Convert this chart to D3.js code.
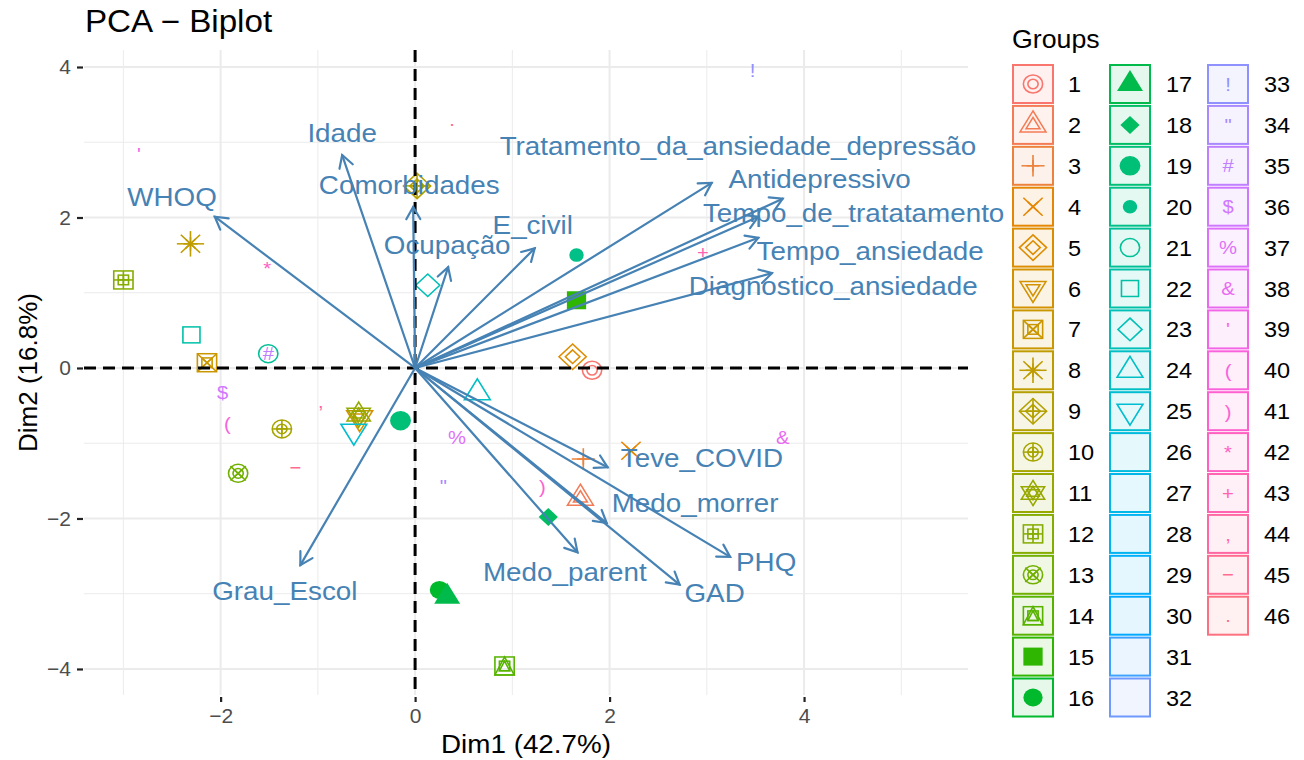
<!DOCTYPE html>
<html>
<head>
<meta charset="utf-8">
<script src="https://cdn.jsdelivr.net/npm/d3@7"></script>
<style>
  body { margin: 0; background: #fff; }
  text { font-family: "Liberation Sans", Arial, sans-serif; }
</style>
</head>
<body>
<svg id="chart" width="1304" height="760"></svg>
<script>
// PCA biplot: individuals coloured/shaped by group, variables as arrows

// groups (legend categories), shape code = group number like ggplot
const groupIds = [1, 2, 3, 4, 5, 6, 7, 8, 9, 10, 11, 12, 13, 14, 15, 16,
  17, 18, 19, 20, 21, 22, 23, 24, 25, 26, 27, 28, 29, 30, 31, 32,
  33, 34, 35, 36, 37, 38, 39, 40, 41, 42, 43, 44, 45, 46];

// individuals (groups 26-32 have no drawable shape)
const pointGroup = [1, 2, 3, 4, 5, 6, 7, 8, 9, 10, 11, 12, 13, 14, 15, 16, 17, 18, 19, 20,
  21, 22, 23, 24, 25, 33, 34, 35, 36, 37, 38, 39, 40, 41, 42, 43, 44, 45, 46];
const pointX = [1.82, 1.70, 1.73, 2.22, 1.62, -0.57, -2.14, -2.31, 0.02, -1.37, -0.58, -3.00, -1.82, 0.92, 1.66, 0.25, 0.33, 1.37, -0.15, 1.66,
  -1.51, -2.30, 0.13, 0.64, -0.63, 3.47, 0.29, -1.51, -1.98, 0.43, 3.78, -2.84, -1.93, 1.31, -1.52, 2.96, -0.97, -1.23, 0.38];
const pointY = [-0.03, -1.73, -1.21, -1.10, 0.15, -0.66, 0.07, 1.65, 2.42, -0.81, -0.62, 1.17, -1.40, -3.96, 0.90, -2.95, -3.04, -1.98, -0.70, 1.50,
  0.19, 0.44, 1.10, -0.33, -0.84, 3.96, -1.57, 0.19, -0.33, -0.92, -0.92, 2.84, -0.73, -1.58, 1.32, 1.54, -0.44, -1.32, 3.31];

// variables (arrow tips) and their label anchors
const varNames = ['WHOQ', 'Idade', 'Comorbidades', 'Ocupação', 'E_civil',
  'Tratamento_da_ansiedade_depressão', 'Antidepressivo', 'Tempo_de_tratatamento',
  'Tempo_ansiedade', 'Diagnostico_ansiedade', 'Teve_COVID', 'Medo_morrer', 'PHQ', 'GAD',
  'Medo_parent', 'Grau_Escol'];
const varX = [-2.06, -0.75, -0.02, 0.34, 1.23, 3.05, 3.78, 3.53, 3.53, 3.67, 1.98, 1.97, 3.24, 2.72, 1.67, -1.18];
const varY = [2.01, 2.83, 2.14, 1.34, 1.59, 2.46, 2.25, 2.01, 1.73, 1.26, -1.32, -2.06, -2.51, -2.88, -2.45, -2.62];
const labX = [-2.50, -0.75, -0.06, 0.33, 1.21, 3.32, 4.16, 4.51, 4.68, 4.30, 2.95, 2.88, 3.61, 3.08, 1.54, -1.34];
const labY = [2.27, 3.12, 2.43, 1.63, 1.90, 2.95, 2.51, 2.06, 1.55, 1.09, -1.20, -1.79, -2.58, -2.99, -2.71, -2.96];

const xTicks = [-2, 0, 2, 4];
const xMinor = [-3, -1, 1, 3, 5];
const yTicks = [-4, -2, 0, 2, 4];
const yMinor = [-3, -1, 1, 3];

// ---- ggplot hue palette (polar LUV like grDevices::hcl) ----
function hcl(h, c, l) {
  const hr = h * Math.PI / 180;
  const U = c * Math.cos(hr), V = c * Math.sin(hr);
  const Y = 100 * (l > 7.999592 ? Math.pow((l + 16) / 116, 3) : l / 903.3);
  const u = U / (13 * l) + 0.1978398, v = V / (13 * l) + 0.4683363;
  const X = 9 * Y * u / (4 * v);
  const Z = -X / 3 - 5 * Y + 3 * Y / v;
  const g = t => { t = t / 100; t = t > 0.00304 ? 1.055 * Math.pow(t, 1 / 2.4) - 0.055 : 12.92 * t; return Math.round(255 * Math.max(0, Math.min(1, t))); };
  return d3.rgb(g(3.240479 * X - 1.537150 * Y - 0.498535 * Z),
                g(-0.969256 * X + 1.875992 * Y + 0.041556 * Z),
                g(0.055648 * X - 0.204043 * Y + 1.057311 * Z)).formatHex();
}
const colour = d3.scaleOrdinal()
  .domain(groupIds)
  .range(groupIds.map((g, i) => hcl(15 + i * 360 / groupIds.length, 100, 65)));

const svg = d3.select('#chart');
const SX = 1.07; // the picture is slightly wider than tall in glyphs/text
const pL = 84, pR = 968, pT = 50, pB = 695;
const x = d3.scaleLinear().domain([-3.405, 5.686]).range([pL, pR]);
const y = d3.scaleLinear().domain([-4.346, 4.226]).range([pB, pT]);

function txt(parent, px, py, str, size, fill, anchor) {
  return parent.append('text')
    .attr('transform', `translate(${px},${py}) scale(${SX},1)`)
    .attr('text-anchor', anchor || 'middle')
    .attr('font-size', size)
    .attr('fill', fill)
    .text(str);
}

// grid
const grid = svg.append('g');
grid.selectAll('.vmin').data(xMinor).enter().append('line')
  .attr('x1', d => x(d)).attr('x2', d => x(d)).attr('y1', pT).attr('y2', pB)
  .attr('stroke', '#ebebeb').attr('stroke-width', 1);
grid.selectAll('.hmin').data(yMinor).enter().append('line')
  .attr('y1', d => y(d)).attr('y2', d => y(d)).attr('x1', pL).attr('x2', pR)
  .attr('stroke', '#ebebeb').attr('stroke-width', 1);
grid.selectAll('.vmaj').data(xTicks).enter().append('line')
  .attr('x1', d => x(d)).attr('x2', d => x(d)).attr('y1', pT).attr('y2', pB)
  .attr('stroke', '#ebebeb').attr('stroke-width', 2);
grid.selectAll('.hmaj').data(yTicks).enter().append('line')
  .attr('y1', d => y(d)).attr('y2', d => y(d)).attr('x1', pL).attr('x2', pR)
  .attr('stroke', '#ebebeb').attr('stroke-width', 2);

// axes: ticks + labels
const xAxis = svg.append('g').attr('transform', `translate(0,${pB + 2})`)
  .call(d3.axisBottom(x).tickValues(xTicks).tickSize(5).tickPadding(6)
    .tickFormat(d => d < 0 ? '\u2212' + Math.abs(d) : d));
const yAxis = svg.append('g').attr('transform', `translate(${pL - 1},0)`)
  .call(d3.axisLeft(y).tickValues(yTicks).tickSize(6).tickPadding(6)
    .tickFormat(d => d < 0 ? '\u2212' + Math.abs(d) : d));
[xAxis, yAxis].forEach(a => {
  a.select('.domain').remove();
  a.selectAll('.tick line').attr('stroke', '#222').attr('stroke-width', 2.2);
  a.selectAll('.tick text').attr('font-size', 21).attr('fill', '#4d4d4d')
    .attr('font-family', '"Liberation Sans", Arial, sans-serif');
});
xAxis.selectAll('.tick text').attr('dy', '0.71em');

// ---- point shapes (R pch geometry) ----
const T0 = 1.55512030, T1 = 1.34677368, T2 = 0.77756015, SQ = 0.88622693, DM = 1.25331414, S2 = Math.SQRT2;
function drawShape(g, code, r, col) {
  const sw = 1.5;
  const line = (x1, y1, x2, y2) => g.append('line').attr('x1', x1).attr('y1', y1).attr('x2', x2).attr('y2', y2)
    .attr('stroke', col).attr('stroke-width', sw);
  const plus = h => { line(-h, 0, h, 0); line(0, -h, 0, h); };
  const cross = h => { line(-h, -h, h, h); line(-h, h, h, -h); };
  const poly = (pts, fill) => g.append('polygon').attr('points', pts.map(p => p.join(',')).join(' '))
    .attr('fill', fill ? col : 'none').attr('stroke', fill === 'solid' ? 'none' : col).attr('stroke-width', sw)
    .attr('stroke-linejoin', 'miter');
  const circ = (rr, fill) => g.append('circle').attr('r', rr).attr('fill', fill ? col : 'none')
    .attr('stroke', fill === 'solid' ? 'none' : col).attr('stroke-width', sw);
  const sq = (h, fill) => g.append('rect').attr('x', -h).attr('y', -h).attr('width', 2 * h).attr('height', 2 * h)
    .attr('fill', fill ? col : 'none').attr('stroke', fill === 'solid' ? 'none' : col).attr('stroke-width', sw);
  const up = rr => [[0, -T0 * rr], [T1 * rr, T2 * rr], [-T1 * rr, T2 * rr]];
  const dn = rr => [[0, T0 * rr], [T1 * rr, -T2 * rr], [-T1 * rr, -T2 * rr]];
  const dia = h => [[0, -h], [h, 0], [0, h], [-h, 0]];
  switch (code) {
    case 0: sq(r * SQ); break;
    case 1: circ(r); break;
    case 2: poly(up(r)); break;
    case 3: plus(S2 * r * 0.85); break;
    case 4: cross(r); break;
    case 5: poly(dia(S2 * r)); break;
    case 6: poly(dn(r)); break;
    case 7: sq(r); cross(r); break;
    case 8: cross(r); plus(S2 * r); break;
    case 9: poly(dia(S2 * r)); plus(S2 * r); break;
    case 10: circ(r); plus(r); break;
    case 11: poly(up(r * 0.9)); poly(dn(r * 0.9)); break;
    case 12: sq(r); plus(r); break;
    case 13: circ(r); cross(r * 0.8); break;
    case 14: sq(r); poly([[0, -r], [r, r], [-r, r]]); break;
    case 15: sq(r, 'solid'); break;
    case 16: circ(r, 'solid'); break;
    case 17: poly(up(r), 'solid'); break;
    case 18: poly(dia(r), 'solid'); break;
    case 19: circ(r, true); break;
    case 20: circ(r * 2 / 3, true); break;
    case 21: circ(r); break;
    case 22: sq(r * SQ); break;
    case 23: poly(dia(r * DM)); break;
    case 24: poly(up(r)); break;
    case 25: poly(dn(r)); break;
    default:
      if (code >= 33) {
        const ch = code === 45 ? '\u2212' : String.fromCharCode(code);
        g.append('text').attr('text-anchor', 'middle').attr('dy', '0.35em')
          .attr('font-size', r * 2.1).attr('fill', col).text(ch);
      }
  }
}
// a group glyph = individual point (small) + its group mean (large);
// fillable shapes 21-25 and characters show as one mark
function drawGlyph(g, code, col) {
  if (code >= 26 && code <= 32) return;
  drawShape(g, code, 9, col);
  if (code <= 20) drawShape(g, code, 4.8, col);
}

// individuals
const pts = svg.append('g');
pointGroup.forEach((gId, i) => {
  const g = pts.append('g').attr('transform', `translate(${x(pointX[i])},${y(pointY[i])}) scale(${SX},1)`);
  drawGlyph(g, gId, colour(gId));
});

// zero axes
svg.append('line').attr('x1', pL).attr('x2', pR).attr('y1', y(0)).attr('y2', y(0))
  .attr('stroke', '#000').attr('stroke-width', 3).attr('stroke-dasharray', '12,7');
svg.append('line').attr('x1', x(0)).attr('x2', x(0)).attr('y1', pT).attr('y2', pB)
  .attr('stroke', '#000').attr('stroke-width', 3).attr('stroke-dasharray', '12,7');

// variable arrows
const arrowCol = '#4682b4';
const arrows = svg.append('g').attr('stroke', arrowCol).attr('stroke-width', 2.2).attr('fill', 'none')
  .attr('stroke-linecap', 'round');
varNames.forEach((n, i) => {
  const x0 = x(0), y0 = y(0), x1 = x(varX[i]), y1 = y(varY[i]);
  const ang = Math.atan2(y1 - y0, x1 - x0), L = 14, a = Math.PI / 6;
  arrows.append('line').attr('x1', x0).attr('y1', y0).attr('x2', x1).attr('y2', y1);
  arrows.append('path').attr('d',
    `M${x1 - L * Math.cos(ang - a)},${y1 - L * Math.sin(ang - a)}L${x1},${y1}L${x1 - L * Math.cos(ang + a)},${y1 - L * Math.sin(ang + a)}`);
});
const labs = svg.append('g');
varNames.forEach((n, i) => {
  txt(labs, x(labX[i]), y(labY[i]) + 9, n, 26, arrowCol);
});

// titles
txt(svg, pL + 1, 32, 'PCA \u2212 Biplot', 31, '#000', 'start');
txt(svg, (pL + pR) / 2, 753, 'Dim1 (42.7%)', 26, '#000');
svg.append('text').attr('transform', `translate(37,${(pT + pB) / 2}) rotate(-90)`)
  .attr('text-anchor', 'middle').attr('font-size', 26).attr('fill', '#000').text('Dim2 (16.8%)');

// legend
const legend = svg.append('g');
txt(legend, 1012, 48, 'Groups', 25, '#000', 'start');
const colX = [1013, 1110, 1208], colLab = [1068, 1166, 1264];
groupIds.forEach((gId, i) => {
  const c = Math.floor(i / 16), r = i % 16;
  const bx = colX[c], by = 65 + r * 40.9, col = colour(gId);
  legend.append('rect').attr('x', bx).attr('y', by).attr('width', 40).attr('height', 38)
    .attr('fill', col).attr('fill-opacity', 0.1).attr('stroke', col).attr('stroke-width', 2);
  const g = legend.append('g').attr('transform', `translate(${bx + 20},${by + 19}) scale(${SX},1)`);
  drawGlyph(g, gId, col);
  txt(legend, colLab[c], by + 27, String(gId), 22, '#000', 'start');
});
</script>
</body>
</html>
